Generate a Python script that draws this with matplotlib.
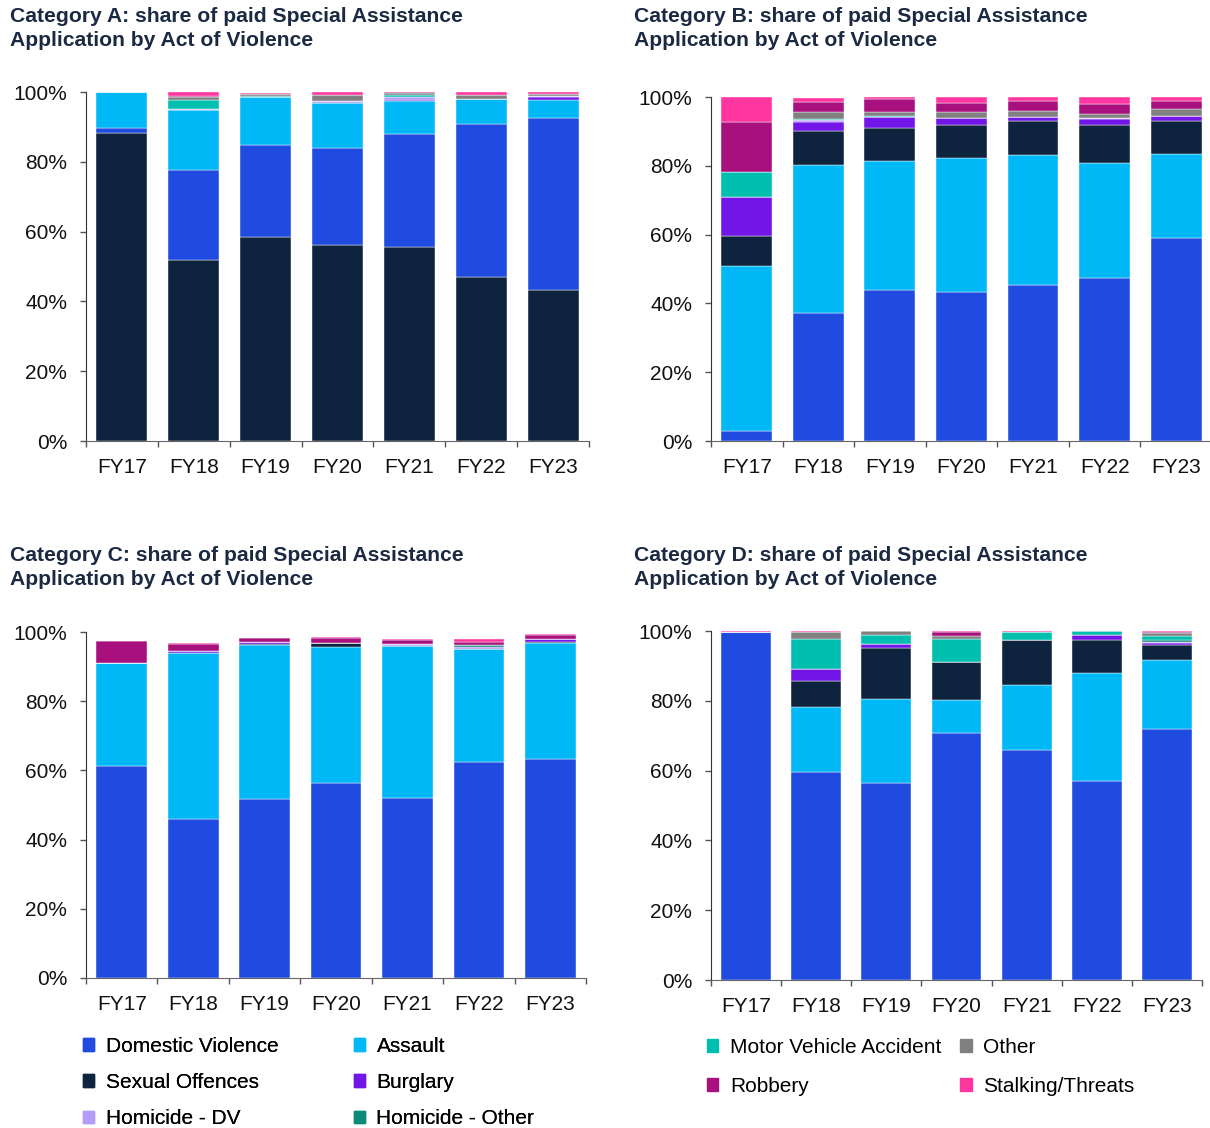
import matplotlib
matplotlib.use('Agg')
import matplotlib.pyplot as plt
from matplotlib.patches import Patch
from matplotlib.ticker import FixedLocator, PercentFormatter

plt.rcParams['font.family'] = ['Liberation Sans', 'DejaVu Sans']

years = ['FY17', 'FY18', 'FY19', 'FY20', 'FY21', 'FY22', 'FY23']

categories = ['Domestic Violence', 'Assault', 'Sexual Offences', 'Burglary',
              'Homicide - DV', 'Homicide - Other', 'Motor Vehicle Accident',
              'Other', 'Robbery', 'Stalking/Threats']

colors = {
    'Domestic Violence': '#1f4be0',
    'Assault': '#00b8f5',
    'Sexual Offences': '#0e233d',
    'Burglary': '#7216e8',
    'Homicide - DV': '#b49cf7',
    'Homicide - Other': '#0b8a7a',
    'Motor Vehicle Accident': '#00bfae',
    'Other': '#808080',
    'Robbery': '#a8107e',
    'Stalking/Threats': '#ff35a0',
}

# share (%) per act of violence, FY17..FY23
cat_a = {
    'Sexual Offences': [88.4, 51.9, 58.4, 56.3, 55.5, 47.0, 43.3],
    'Domestic Violence': [1.2, 25.8, 26.4, 27.7, 32.5, 43.8, 49.2],
    'Assault': [10.4, 17.2, 13.7, 12.9, 9.4, 7.2, 5.2],
    'Burglary': [0, 0, 0, 0, 0.3, 0, 0.8],
    'Homicide - DV': [0, 0.3, 0, 0.5, 1.0, 0, 0.4],
    'Homicide - Other': [0, 0, 0.5, 0, 0, 0, 0],
    'Motor Vehicle Accident': [0, 2.4, 0, 0, 0.4, 0, 0],
    'Other': [0, 1.0, 0.3, 1.7, 0.5, 1.2, 0.6],
    'Robbery': [0, 0.4, 0, 0, 0.4, 0, 0],
    'Stalking/Threats': [0, 1.0, 0.5, 0.8, 0, 0.7, 0.4],
}

cat_b = {
    'Domestic Violence': [2.9, 37.2, 43.9, 43.3, 45.5, 47.5, 59.0],
    'Assault': [48.0, 43.0, 37.5, 39.0, 37.7, 33.4, 24.4],
    'Sexual Offences': [8.7, 10.0, 9.7, 9.7, 9.9, 11.1, 9.7],
    'Burglary': [11.4, 2.5, 3.0, 1.8, 1.2, 1.5, 1.5],
    'Homicide - DV': [0, 0.5, 0, 0, 0, 0.4, 0],
    'Homicide - Other': [0, 0, 0, 0, 0, 0, 0],
    'Motor Vehicle Accident': [7.1, 0.4, 0.4, 0.2, 0, 0, 0],
    'Other': [0, 2.0, 1.2, 1.6, 1.5, 1.1, 1.9],
    'Robbery': [14.7, 3.0, 3.7, 2.7, 3.0, 2.9, 2.4],
    'Stalking/Threats': [7.2, 1.0, 0.5, 1.8, 1.2, 2.1, 1.0],
}

cat_c = {
    'Domestic Violence': [61.3, 46.0, 51.6, 56.4, 52.0, 62.4, 63.3],
    'Assault': [29.7, 47.8, 44.6, 39.4, 43.9, 32.7, 33.5],
    'Sexual Offences': [0, 0, 0.4, 0.9, 0, 0, 0.3],
    'Burglary': [0, 0.7, 0.5, 0, 0, 0, 0.8],
    'Homicide - DV': [0, 0, 0, 0, 0.6, 0.6, 0],
    'Homicide - Other': [0, 0, 0, 0, 0, 0.6, 0],
    'Motor Vehicle Accident': [0, 0, 0, 0, 0, 0, 0],
    'Other': [0, 0, 0, 0, 0, 0, 0],
    'Robbery': [6.4, 2.0, 1.2, 1.5, 1.1, 0.8, 1.2],
    'Stalking/Threats': [0, 0.3, 0, 0.3, 0.5, 0.8, 0.3],
}

cat_d = {
    'Domestic Violence': [99.7, 59.6, 56.4, 70.8, 65.9, 57.0, 71.9],
    'Assault': [0, 18.6, 24.1, 9.4, 18.5, 31.1, 19.8],
    'Sexual Offences': [0, 7.4, 14.6, 11.0, 13.1, 9.4, 4.3],
    'Burglary': [0, 3.4, 1.1, 0, 0, 1.4, 0.5],
    'Homicide - DV': [0, 0, 0, 0, 0, 0, 0.3],
    'Homicide - Other': [0, 0, 0, 0, 0, 0, 0.7],
    'Motor Vehicle Accident': [0, 8.7, 2.7, 6.6, 2.3, 1.0, 1.2],
    'Other': [0, 2.0, 1.0, 0.9, 0, 0, 0.7],
    'Robbery': [0, 0, 0, 1.0, 0, 0, 0.4],
    'Stalking/Threats': [0.3, 0.3, 0.3, 0.3, 0.3, 0.3, 0.3],
}

title_tail = ': share of paid Special Assistance\nApplication by Act of Violence'
panels = [
    ('Category A', cat_a, [0.0711, 0.6090, 0.4157, 0.3094], (10, 7)),
    ('Category B', cat_b, [0.5876, 0.6090, 0.4140, 0.3050], (634, 7)),
    ('Category C', cat_c, [0.0711, 0.1330, 0.4132, 0.3067], (10, 546)),
    ('Category D', cat_d, [0.5876, 0.1312, 0.4058, 0.3094], (634, 546)),
]

W, H = 1210, 1128
fig = plt.figure(figsize=(W / 100, H / 100), dpi=100)

for name, data, rect, (tx, ty) in panels:
    ax = fig.add_axes(rect)
    x = range(len(years))
    bottom = [0.0] * len(years)
    for cat, vals in data.items():
        ax.bar(x, vals, width=0.71, bottom=bottom, color=colors[cat],
               edgecolor='white', linewidth=0.3)
        bottom = [b + v for b, v in zip(bottom, vals)]
    ax.set_xlim(-0.5, len(years) - 0.5)
    ax.set_ylim(0, 100)
    ax.set_yticks([0, 20, 40, 60, 80, 100])
    ax.yaxis.set_major_formatter(PercentFormatter(decimals=0))
    ax.set_xticks(list(x))
    ax.set_xticklabels(years)
    ax.xaxis.set_minor_locator(FixedLocator([i - 0.5 for i in range(len(years) + 1)]))
    ax.tick_params(axis='x', which='major', length=0, pad=12, labelsize=15, labelcolor='#111111')
    ax.tick_params(axis='x', which='minor', length=4.5, width=1, color='#555555', direction='out')
    ax.tick_params(axis='y', length=4.5, width=1, color='#555555', pad=9, labelsize=15, labelcolor='#111111')
    for s in ['top', 'right']:
        ax.spines[s].set_visible(False)
    ax.spines['left'].set_color('#333333')
    ax.spines['bottom'].set_color('#666666')
    fig.text(tx / W, 1 - ty / H, name + title_tail, ha='left', va='top',
             fontsize=15.2, fontweight='bold', color='#1b2a42', linespacing=1.32)

left_order = ['Domestic Violence', 'Sexual Offences', 'Homicide - DV',
              'Assault', 'Burglary', 'Homicide - Other']
right_order = ['Motor Vehicle Accident', 'Robbery', 'Other', 'Stalking/Threats']

leg1 = fig.legend([Patch(color=colors[c]) for c in left_order], left_order,
                  loc='upper left', bbox_to_anchor=(83 / W, 1 - 1037 / H), ncol=2,
                  frameon=False, fontsize=15, handlelength=0.55, handleheight=0.55,
                  handletextpad=0.55, columnspacing=3.6, labelspacing=0.82,
                  borderpad=0, borderaxespad=0)
fig.add_artist(leg1)
fig.legend([Patch(color=colors[c]) for c in right_order], right_order,
           loc='upper left', bbox_to_anchor=(707 / W, 1 - 1038 / H), ncol=2,
           frameon=False, fontsize=15, handlelength=0.55, handleheight=0.55,
           handletextpad=0.55, columnspacing=0.9, labelspacing=0.95,
           borderpad=0, borderaxespad=0)

fig.savefig('out.png', dpi=100, facecolor='white')
